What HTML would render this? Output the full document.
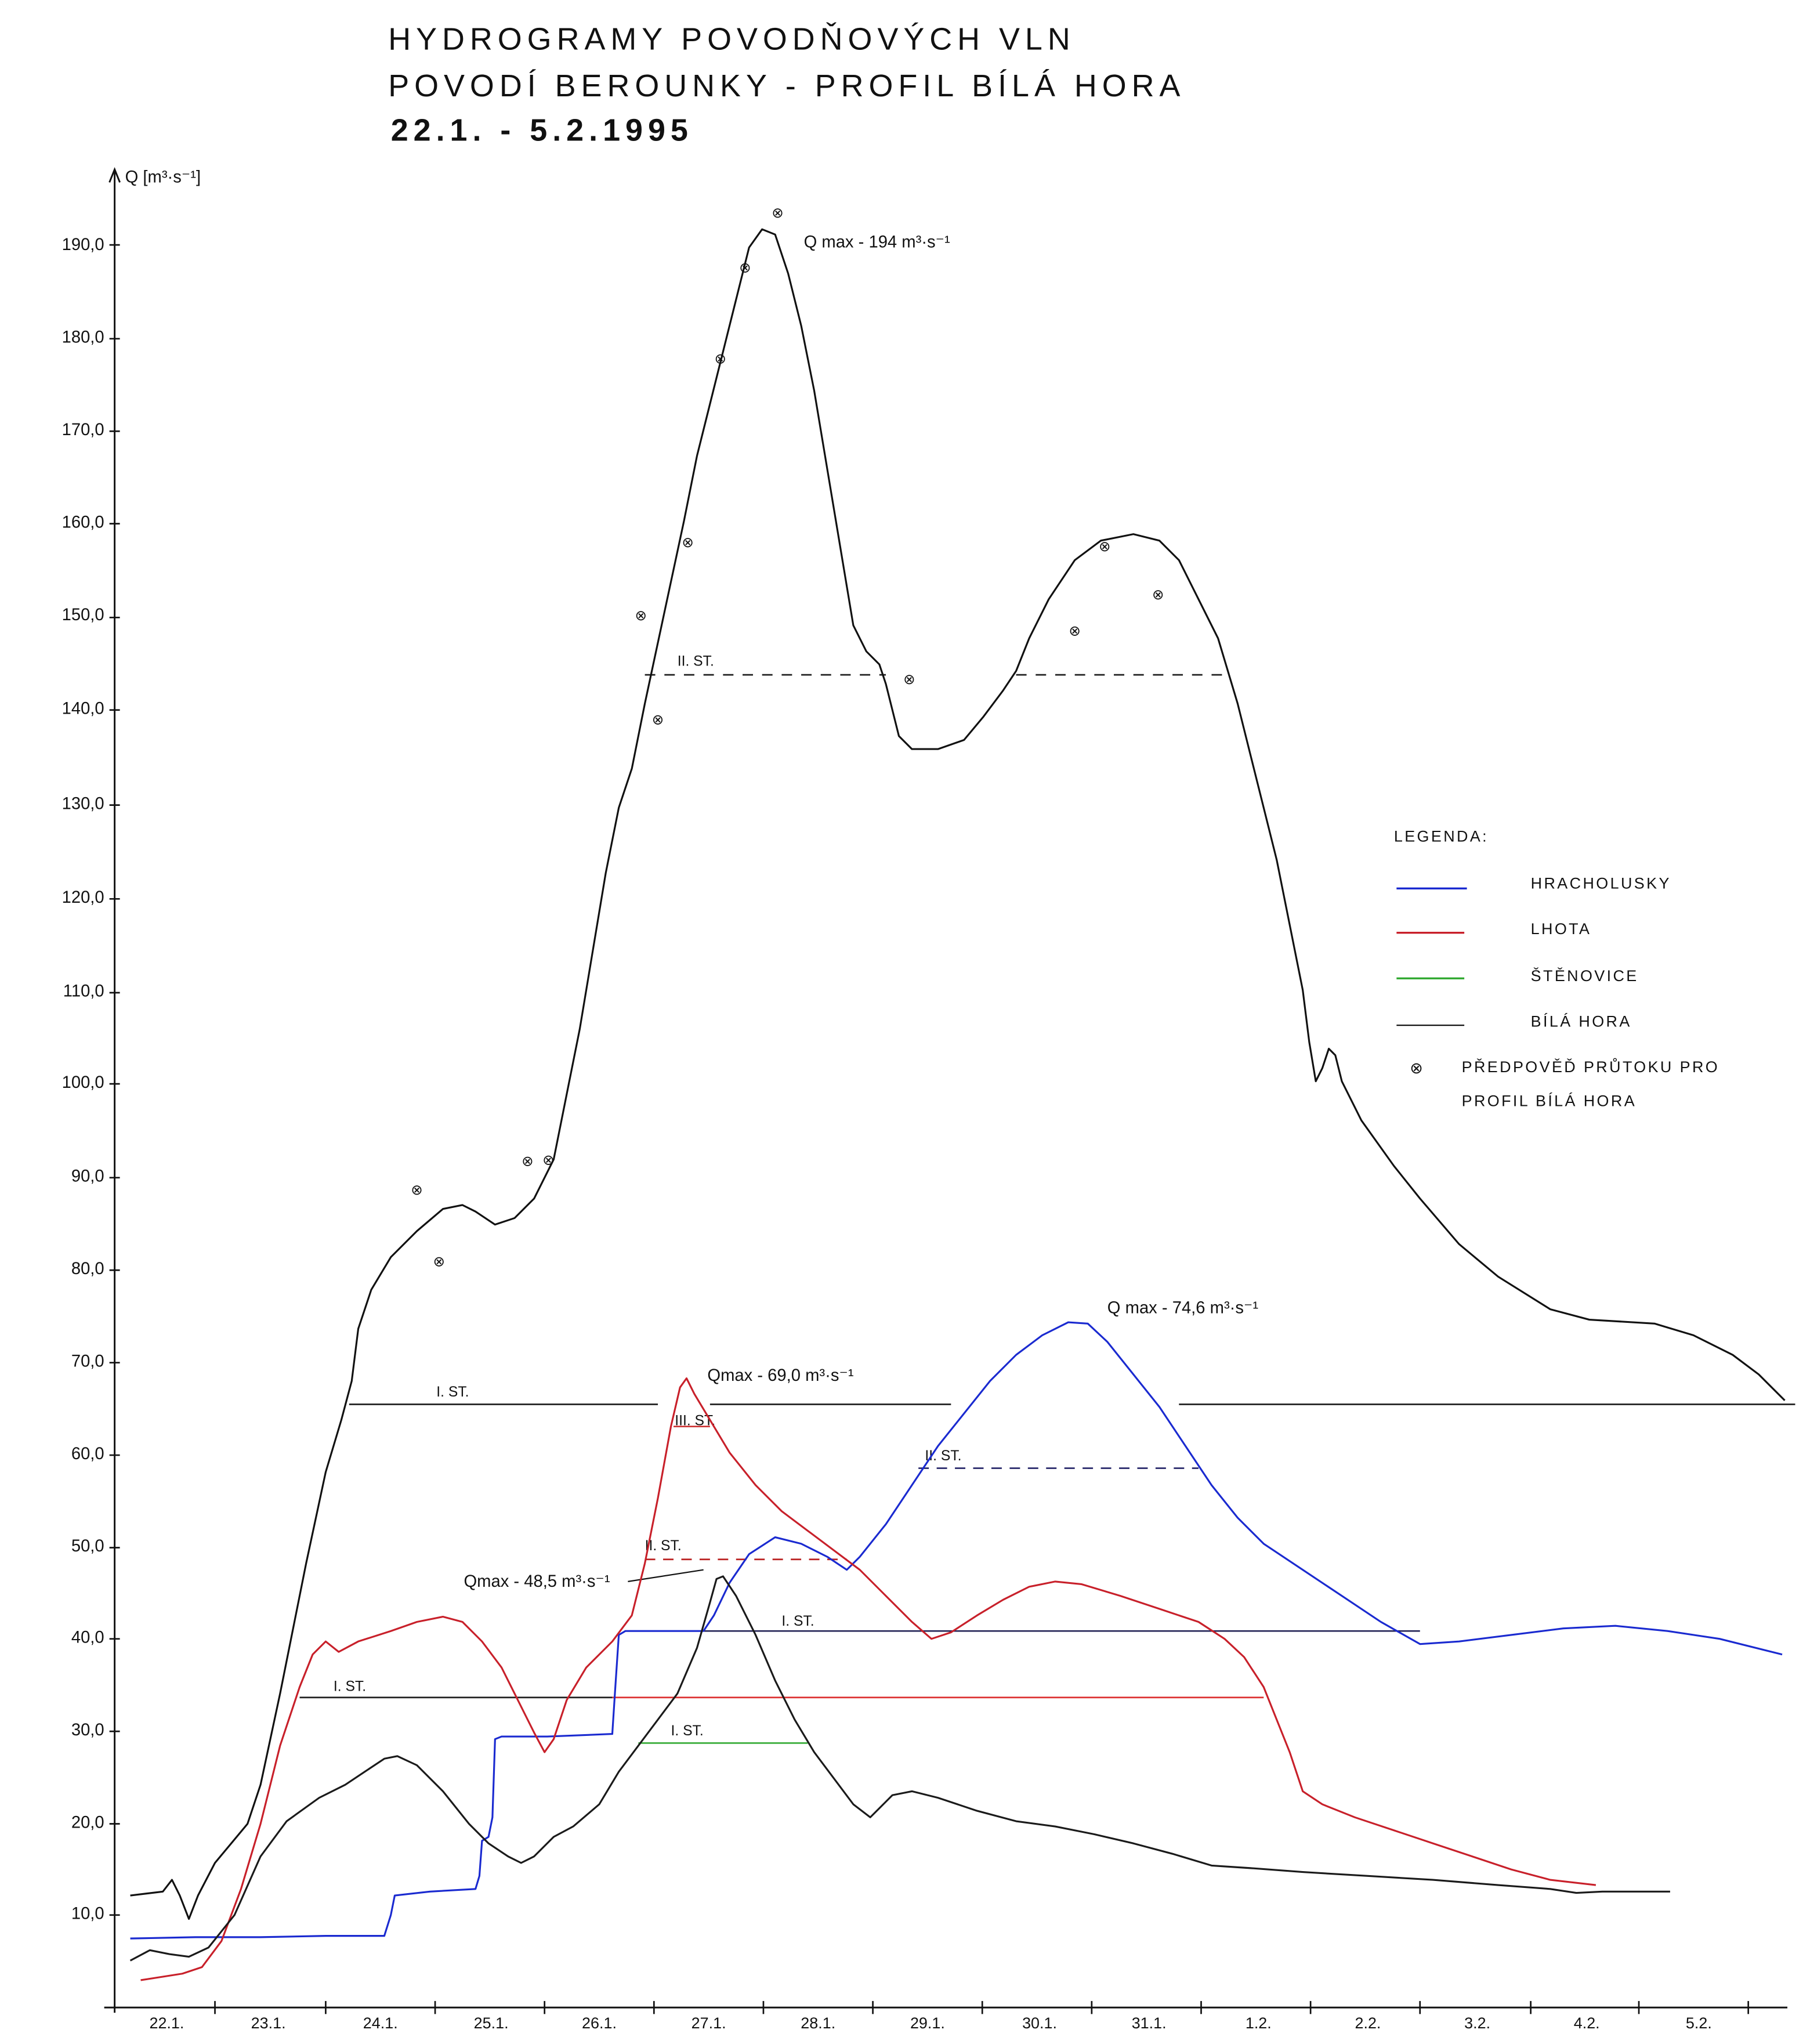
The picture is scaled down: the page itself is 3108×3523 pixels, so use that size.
<!DOCTYPE html>
<html><head><meta charset="utf-8"><style>
html,body{margin:0;padding:0;background:#fff;}
svg{display:block;}
text{font-family:"Liberation Sans",sans-serif;fill:#111;}
</style></head><body>
<svg width="3108" height="3523" viewBox="0 0 1384 1569" preserveAspectRatio="none" xmlns="http://www.w3.org/2000/svg">
<rect width="1384" height="1569" fill="#fff"/>
<g font-size="24" letter-spacing="4">
<text x="298" y="38">HYDROGRAMY POVODŇOVÝCH VLN</text>
<text x="298" y="74">POVODÍ BEROUNKY - PROFIL BÍLÁ HORA</text>
<text x="300" y="108" font-weight="bold">22.1. - 5.2.1995</text>
</g>
<!-- axes -->
<g stroke="#111" stroke-width="1.3" fill="none">
<line x1="88" y1="130" x2="88" y2="1545"/>
<polyline points="84,140 88,130 92,140"/>
<line x1="80" y1="1541" x2="1372" y2="1541"/>
</g>
<text x="96" y="140" font-size="13">Q [m³·s⁻¹]</text>
<g font-size="13" text-anchor="end">
<text x="80" y="192">190,0</text><text x="80" y="263">180,0</text><text x="80" y="334">170,0</text>
<text x="80" y="405">160,0</text><text x="80" y="476">150,0</text><text x="80" y="548">140,0</text>
<text x="80" y="621">130,0</text><text x="80" y="693">120,0</text><text x="80" y="765">110,0</text>
<text x="80" y="835">100,0</text><text x="80" y="907">90,0</text><text x="80" y="978">80,0</text>
<text x="80" y="1049">70,0</text><text x="80" y="1120">60,0</text><text x="80" y="1191">50,0</text>
<text x="80" y="1261">40,0</text><text x="80" y="1332">30,0</text><text x="80" y="1403">20,0</text>
<text x="80" y="1473">10,0</text>
</g>
<g stroke="#111" stroke-width="1.2">
<line x1="84" y1="188" x2="92" y2="188"/><line x1="84" y1="260" x2="92" y2="260"/><line x1="84" y1="331" x2="92" y2="331"/>
<line x1="84" y1="402" x2="92" y2="402"/><line x1="84" y1="474" x2="92" y2="474"/><line x1="84" y1="545" x2="92" y2="545"/>
<line x1="84" y1="618" x2="92" y2="618"/><line x1="84" y1="690" x2="92" y2="690"/><line x1="84" y1="762" x2="92" y2="762"/>
<line x1="84" y1="832" x2="92" y2="832"/><line x1="84" y1="904" x2="92" y2="904"/><line x1="84" y1="975" x2="92" y2="975"/>
<line x1="84" y1="1046" x2="92" y2="1046"/><line x1="84" y1="1117" x2="92" y2="1117"/><line x1="84" y1="1188" x2="92" y2="1188"/>
<line x1="84" y1="1258" x2="92" y2="1258"/><line x1="84" y1="1329" x2="92" y2="1329"/><line x1="84" y1="1400" x2="92" y2="1400"/>
<line x1="84" y1="1470" x2="92" y2="1470"/>
<line x1="165" y1="1536" x2="165" y2="1546"/><line x1="250" y1="1536" x2="250" y2="1546"/><line x1="334" y1="1536" x2="334" y2="1546"/>
<line x1="418" y1="1536" x2="418" y2="1546"/><line x1="502" y1="1536" x2="502" y2="1546"/><line x1="586" y1="1536" x2="586" y2="1546"/>
<line x1="670" y1="1536" x2="670" y2="1546"/><line x1="754" y1="1536" x2="754" y2="1546"/><line x1="838" y1="1536" x2="838" y2="1546"/>
<line x1="922" y1="1536" x2="922" y2="1546"/><line x1="1006" y1="1536" x2="1006" y2="1546"/><line x1="1090" y1="1536" x2="1090" y2="1546"/>
<line x1="1175" y1="1536" x2="1175" y2="1546"/><line x1="1258" y1="1536" x2="1258" y2="1546"/><line x1="1342" y1="1536" x2="1342" y2="1546"/>
</g>
<g font-size="12" text-anchor="middle">
<text x="128" y="1557">22.1.</text><text x="206" y="1557">23.1.</text><text x="292" y="1557">24.1.</text>
<text x="377" y="1557">25.1.</text><text x="460" y="1557">26.1.</text><text x="544" y="1557">27.1.</text>
<text x="628" y="1557">28.1.</text><text x="712" y="1557">29.1.</text><text x="798" y="1557">30.1.</text>
<text x="882" y="1557">31.1.</text><text x="966" y="1557">1.2.</text><text x="1050" y="1557">2.2.</text>
<text x="1134" y="1557">3.2.</text><text x="1218" y="1557">4.2.</text><text x="1304" y="1557">5.2.</text>
</g>
<!-- threshold lines -->
<g stroke-width="1.2" fill="none">
<path d="M268 1078H505M545 1078H730M905 1078H1378" stroke="#222"/>
<path d="M495 518H680M780 518H945" stroke="#222" stroke-dasharray="8 7"/>
<path d="M230 1303H470" stroke="#222"/>
<path d="M470 1303H970" stroke="#d33"/>
<path d="M495 1197H650" stroke="#b22" stroke-dasharray="8 6"/>
<path d="M517 1095H545" stroke="#c33"/>
<path d="M540 1252H1090" stroke="#225"/>
<path d="M705 1127H920" stroke="#226" stroke-dasharray="8 6"/>
<path d="M490 1338H620" stroke="#3a3"/>
</g>
<g font-size="11">
<text x="335" y="1072">I. ST.</text><text x="520" y="511">II. ST.</text>
<text x="256" y="1298">I. ST.</text><text x="495" y="1190">II. ST.</text><text x="518" y="1094">III. ST.</text>
<text x="600" y="1248">I. ST.</text><text x="710" y="1121">II. ST.</text><text x="515" y="1332">I. ST.</text>
</g>
<g font-size="13">
<text x="617" y="190">Q max - 194 m³·s⁻¹</text>
<text x="850" y="1008">Q max - 74,6 m³·s⁻¹</text>
<text x="543" y="1060">Qmax - 69,0 m³·s⁻¹</text>
<text x="356" y="1218">Qmax - 48,5 m³·s⁻¹</text>
</g>
<path d="M482 1214L540 1205" stroke="#111" fill="none"/>
<!-- curves -->
<g fill="none" stroke-width="1.4" stroke-linejoin="round">
<polyline stroke="#111" points="100,1455 125,1452 132,1443 138,1455 145,1473 152,1455 165,1430 190,1400 200,1370 215,1300 235,1200 250,1130 262,1090 270,1060 275,1020 285,990 300,965 320,945 340,928 355,925 365,930 380,940 395,935 410,920 425,890 435,840 445,790 455,730 465,670 475,620 485,590 495,540 510,470 525,400 535,350 545,310 555,270 565,230 575,190 585,176 595,180 605,210 615,250 625,300 635,360 645,420 655,480 665,500 675,510 680,525 685,545 690,565 700,575 720,575 740,568 755,550 770,530 780,515 790,490 805,460 825,430 845,415 870,410 890,415 905,430 920,460 935,490 950,540 960,580 970,620 980,660 990,710 1000,760 1005,800 1010,830 1015,820 1020,805 1025,810 1030,830 1045,860 1070,895 1090,920 1120,955 1150,980 1190,1005 1220,1013 1270,1016 1300,1025 1330,1040 1350,1055 1370,1075"/>
<polyline stroke="#1a2ad0" points="100,1488 150,1487 200,1487 250,1486 295,1486 300,1470 303,1455 330,1452 365,1450 368,1440 370,1413 375,1410 378,1395 380,1335 385,1333 420,1333 470,1331 472,1300 475,1255 480,1252 540,1252 548,1240 560,1215 575,1193 595,1180 615,1185 635,1195 650,1205 660,1195 680,1170 700,1140 720,1110 740,1085 760,1060 780,1040 800,1025 820,1015 835,1016 850,1030 870,1055 890,1080 910,1110 930,1140 950,1165 970,1185 1000,1205 1030,1225 1060,1245 1090,1262 1120,1260 1160,1255 1200,1250 1240,1248 1280,1252 1320,1258 1368,1270"/>
<polyline stroke="#c8202a" points="108,1520 140,1515 155,1510 170,1490 185,1450 200,1400 215,1340 230,1295 240,1270 250,1260 260,1268 275,1260 300,1252 320,1245 340,1241 355,1245 370,1260 385,1280 400,1310 410,1330 418,1345 425,1335 435,1305 450,1280 470,1260 485,1240 495,1200 505,1150 515,1095 522,1065 527,1058 533,1070 545,1090 560,1115 580,1140 600,1160 620,1175 640,1190 660,1205 680,1225 700,1245 715,1258 730,1253 750,1240 770,1228 790,1218 810,1214 830,1216 860,1225 890,1235 920,1245 940,1258 955,1272 970,1295 980,1320 990,1345 1000,1375 1015,1385 1040,1395 1070,1405 1100,1415 1130,1425 1160,1435 1190,1443 1225,1447"/>
<polyline stroke="#1a1a1a" points="100,1505 115,1497 130,1500 145,1502 160,1495 180,1470 200,1425 220,1398 245,1380 265,1370 280,1360 295,1350 305,1348 320,1355 340,1375 360,1400 375,1415 390,1425 400,1430 410,1425 425,1410 440,1402 460,1385 475,1360 490,1340 505,1320 520,1300 535,1265 545,1230 550,1212 555,1210 565,1225 580,1255 595,1290 610,1320 625,1345 640,1365 655,1385 668,1395 675,1388 685,1378 700,1375 720,1380 750,1390 780,1398 810,1402 840,1408 870,1415 900,1423 930,1432 960,1434 1000,1437 1050,1440 1100,1443 1150,1447 1190,1450 1210,1453 1230,1452 1282,1452"/>
</g>
<!-- forecast points -->
<g font-size="11" text-anchor="middle" fill="#111">
<text x="320" y="917">⊗</text><text x="337" y="972">⊗</text><text x="405" y="895">⊗</text><text x="421" y="894">⊗</text>
<text x="492" y="476">⊗</text><text x="505" y="556">⊗</text><text x="528" y="420">⊗</text><text x="553" y="279">⊗</text>
<text x="572" y="209">⊗</text><text x="597" y="167">⊗</text><text x="698" y="525">⊗</text><text x="825" y="488">⊗</text>
<text x="848" y="423">⊗</text><text x="889" y="460">⊗</text>
</g>
<!-- legend -->
<g font-size="12" letter-spacing="1.5">
<text x="1070" y="646">LEGENDA:</text>
<text x="1175" y="682">HRACHOLUSKY</text>
<text x="1175" y="717">LHOTA</text>
<text x="1175" y="753">ŠTĚNOVICE</text>
<text x="1175" y="788">BÍLÁ HORA</text>
<text x="1122" y="823">PŘEDPOVĚĎ PRŮTOKU PRO</text>
<text x="1122" y="849">PROFIL BÍLÁ HORA</text>
<text x="1088" y="824" text-anchor="middle">⊗</text>
</g>
<g stroke-width="1.5">
<line x1="1072" y1="682" x2="1126" y2="682" stroke="#1a2ad0"/>
<line x1="1072" y1="716" x2="1124" y2="716" stroke="#c8202a"/>
<line x1="1072" y1="751" x2="1124" y2="751" stroke="#3a3"/>
<line x1="1072" y1="787" x2="1124" y2="787" stroke="#111" stroke-width="1"/>
</g>
</svg>
</body></html>
